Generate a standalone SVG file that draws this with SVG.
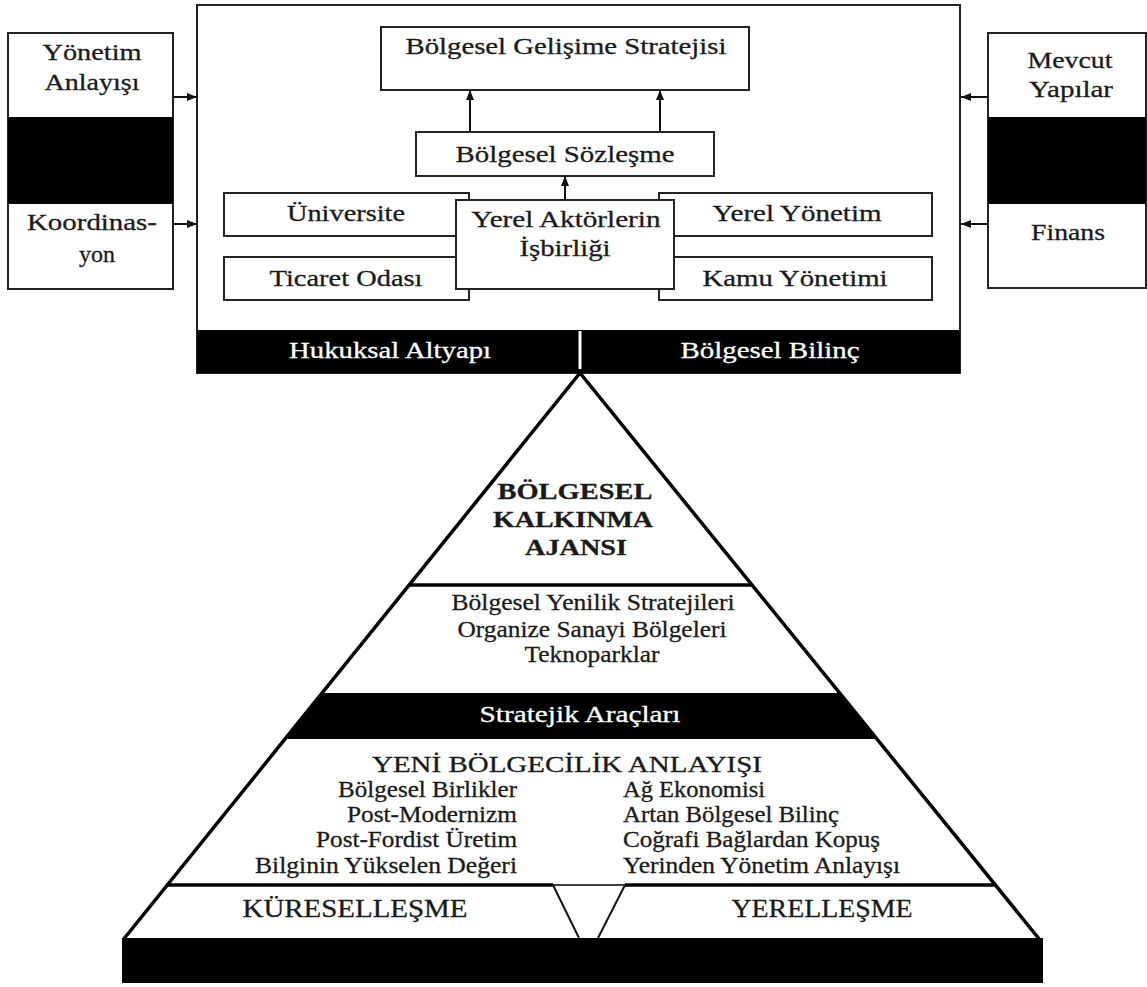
<svg xmlns="http://www.w3.org/2000/svg" width="1147" height="987" viewBox="0 0 1147 987">
<defs>
<style>
text{font-family:"Liberation Serif","Times New Roman",serif;fill:#1a1a1a;stroke:#1a1a1a;stroke-width:0.3;font-size:24px;text-anchor:middle}
.box{fill:#fff;stroke:#222;stroke-width:2}
.band{fill:#000}
text.w{fill:#fff;stroke:#fff}
.b{font-weight:bold}
.l{text-anchor:end;font-size:23px}
.r{text-anchor:start;font-size:23px}
.big{font-size:26px}
.conn{stroke:#111;stroke-width:2;fill:none}
.pyr{stroke:#000;stroke-width:3.5;fill:none}
</style>
<marker id="ah" viewBox="0 0 10 10" refX="10" refY="5" markerWidth="10" markerHeight="10" markerUnits="userSpaceOnUse" orient="auto">
<path d="M0,1 L10,5 L0,9 z" fill="#111"/>
</marker>
</defs>
<rect width="1147" height="987" fill="#fff"/>

<g id="left-box">
<rect class="box" x="8" y="33" width="165" height="256"/>
<rect class="band" x="8" y="117" width="165" height="87"/>
<text x="92" y="60" textLength="99" lengthAdjust="spacingAndGlyphs">Yönetim</text>
<text x="92" y="90" textLength="95" lengthAdjust="spacingAndGlyphs">Anlayışı</text>
<text x="92" y="230" textLength="130" lengthAdjust="spacingAndGlyphs">Koordinas-</text>
<text x="97" y="262">yon</text>
</g>

<g id="right-box">
<rect class="box" x="988" y="33" width="158" height="255"/>
<rect class="band" x="988" y="117" width="158" height="87"/>
<text x="1070" y="68" textLength="85" lengthAdjust="spacingAndGlyphs">Mevcut</text>
<text x="1071" y="97" textLength="84" lengthAdjust="spacingAndGlyphs">Yapılar</text>
<text x="1068" y="240" textLength="74" lengthAdjust="spacingAndGlyphs">Finans</text>
</g>

<g id="main-box">
<rect class="box" x="197" y="5" width="763" height="368"/>
<rect class="band" x="197" y="330" width="763" height="43"/>
<line x1="580" y1="331" x2="580" y2="369" stroke="#fff" stroke-width="3"/>
<text class="w" x="390" y="358" textLength="202" lengthAdjust="spacingAndGlyphs">Hukuksal Altyapı</text>
<text class="w" x="770" y="358" textLength="179" lengthAdjust="spacingAndGlyphs">Bölgesel Bilinç</text>
</g>

<g id="strategy">
<rect class="box" x="381" y="27" width="368" height="63"/>
<text x="566" y="54" textLength="321" lengthAdjust="spacingAndGlyphs">Bölgesel Gelişime Stratejisi</text>
</g>

<g id="contract">
<rect class="box" x="416" y="132" width="298" height="44"/>
<text x="565" y="162" textLength="219" lengthAdjust="spacingAndGlyphs">Bölgesel Sözleşme</text>
</g>

<g id="universite">
<rect class="box" x="224" y="193" width="245" height="43"/>
<text x="346" y="221" textLength="118" lengthAdjust="spacingAndGlyphs">Üniversite</text>
</g>
<g id="ticaret">
<rect class="box" x="224" y="257" width="245" height="43"/>
<text x="346" y="286" textLength="153" lengthAdjust="spacingAndGlyphs">Ticaret Odası</text>
</g>
<g id="yerel-yonetim">
<rect class="box" x="659" y="193" width="273" height="43"/>
<text x="797" y="221" textLength="169" lengthAdjust="spacingAndGlyphs">Yerel Yönetim</text>
</g>
<g id="kamu-yonetimi">
<rect class="box" x="659" y="257" width="273" height="43"/>
<text x="795" y="286" textLength="185" lengthAdjust="spacingAndGlyphs">Kamu Yönetimi</text>
</g>

<g id="cooperation">
<rect class="box" x="456" y="200" width="218" height="89"/>
<text x="566" y="227" textLength="189" lengthAdjust="spacingAndGlyphs">Yerel Aktörlerin</text>
<text x="565" y="256" textLength="91" lengthAdjust="spacingAndGlyphs">İşbirliği</text>
</g>

<g id="connectors">
<line class="conn" x1="173" y1="97" x2="197" y2="97" marker-end="url(#ah)"/>
<line class="conn" x1="173" y1="224" x2="197" y2="224" marker-end="url(#ah)"/>
<line class="conn" x1="988" y1="97" x2="961" y2="97" marker-end="url(#ah)"/>
<line class="conn" x1="988" y1="224" x2="961" y2="224" marker-end="url(#ah)"/>
<line class="conn" x1="470" y1="132" x2="470" y2="90" marker-end="url(#ah)"/>
<line class="conn" x1="660" y1="132" x2="660" y2="90" marker-end="url(#ah)"/>
<line class="conn" x1="565" y1="200" x2="565" y2="176" marker-end="url(#ah)"/>
</g>

<g id="pyramid">
<polygon class="band" points="322,693 839,693 877,739 285,739"/>
<rect class="band" x="122" y="938" width="921" height="45"/>
<polyline class="pyr" points="123,940 580,373 1040,940" stroke-linejoin="miter"/>
<line class="pyr" x1="409" y1="585" x2="752" y2="585"/>
<line class="pyr" x1="168" y1="885" x2="553" y2="885"/>
<line class="pyr" x1="625" y1="885" x2="994" y2="885"/>
<line x1="553" y1="885" x2="625" y2="885" stroke="#000" stroke-width="1.5"/>
<line x1="553" y1="885" x2="579" y2="938" stroke="#111" stroke-width="2"/>
<line x1="625" y1="885" x2="598" y2="938" stroke="#111" stroke-width="2"/>
</g>

<g id="ajans">
<text class="b" x="575" y="499" textLength="155" lengthAdjust="spacingAndGlyphs">BÖLGESEL</text>
<text class="b" x="573" y="527" textLength="160" lengthAdjust="spacingAndGlyphs">KALKINMA</text>
<text class="b" x="576" y="555" textLength="102" lengthAdjust="spacingAndGlyphs">AJANSI</text>
</g>

<g id="tools">
<text x="593" y="610" textLength="283" lengthAdjust="spacingAndGlyphs">Bölgesel Yenilik Stratejileri</text>
<text x="592" y="637" textLength="269" lengthAdjust="spacingAndGlyphs">Organize Sanayi Bölgeleri</text>
<text x="592" y="662" textLength="135" lengthAdjust="spacingAndGlyphs">Teknoparklar</text>
</g>

<g id="strategic-tools">
<text class="w" x="580" y="722" textLength="201" lengthAdjust="spacingAndGlyphs">Stratejik Araçları</text>
</g>

<g id="new-regionalism">
<text x="567" y="772" textLength="390" lengthAdjust="spacingAndGlyphs">YENİ BÖLGECİLİK ANLAYIŞI</text>
<text class="l" x="517" y="797" textLength="179" lengthAdjust="spacingAndGlyphs">Bölgesel Birlikler</text>
<text class="l" x="517" y="822" textLength="170" lengthAdjust="spacingAndGlyphs">Post-Modernizm</text>
<text class="l" x="517" y="847" textLength="201" lengthAdjust="spacingAndGlyphs">Post-Fordist Üretim</text>
<text class="l" x="517" y="873" textLength="262" lengthAdjust="spacingAndGlyphs">Bilginin Yükselen Değeri</text>
<text class="r" x="623" y="797" textLength="142" lengthAdjust="spacingAndGlyphs">Ağ Ekonomisi</text>
<text class="r" x="623" y="822" textLength="216" lengthAdjust="spacingAndGlyphs">Artan Bölgesel Bilinç</text>
<text class="r" x="623" y="847" textLength="257" lengthAdjust="spacingAndGlyphs">Coğrafi Bağlardan Kopuş</text>
<text class="r" x="623" y="873" textLength="277" lengthAdjust="spacingAndGlyphs">Yerinden Yönetim Anlayışı</text>
</g>

<g id="base">
<text class="big" x="355" y="917" textLength="225" lengthAdjust="spacingAndGlyphs">KÜRESELLEŞME</text>
<text class="big" x="822" y="917" textLength="181" lengthAdjust="spacingAndGlyphs">YERELLEŞME</text>
</g>
</svg>
